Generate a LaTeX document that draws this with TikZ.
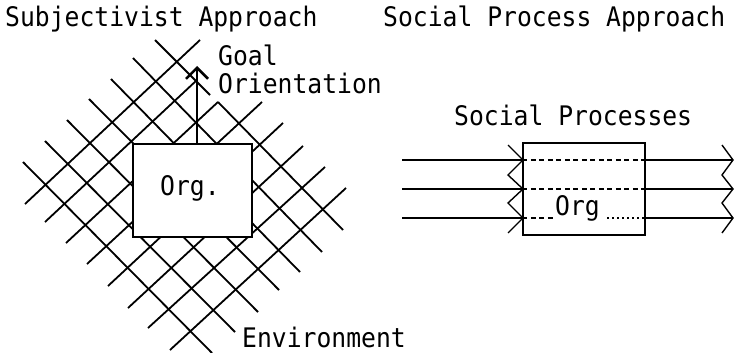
\documentclass[tikz,border=0pt]{standalone}
\usepackage{fontspec}
\newfontfamily\monofont{DejaVu Sans Mono}
\usetikzlibrary{arrows.meta}
\newcommand\tallt[1]{\scalebox{1}[1.09]{#1}}
\begin{document}
\begin{tikzpicture}[x=1pt,y=-1pt,
  lat/.style={line width=1.8pt},
  lbl/.style={font=\monofont\fontsize{24.7}{28}\selectfont, inner sep=0pt, anchor=base west},
  boxL/.style={draw, line width=2pt, fill=white, minimum width=119pt, minimum height=93pt, inner sep=0pt},
  boxR/.style={draw, line width=1.5pt, fill=white, minimum width=122pt, minimum height=92pt, inner sep=0pt},
  flow/.style={line width=2.2pt},
  inner/.style={line width=1.2pt, dash pattern=on 5pt off 3.5pt},
  dots/.style={line width=1.2pt, dash pattern=on 2pt off 3pt},
  zig/.style={line width=1.4pt, line join=miter}]
\useasboundingbox (0,0) rectangle (734,353);

% environment lattice
\draw[lat] (23,162) -- (212,353);
\draw[lat] (45,141) -- (235,332);
\draw[lat] (67,120) -- (258,312);
\draw[lat] (89,99) -- (279,290);
\draw[lat] (111,79) -- (300,272);
\draw[lat] (133,58) -- (322,252);
\draw[lat] (155,40) -- (210,95);
\draw[lat] (218,102) -- (343,230);
\draw[lat] (25,204) -- (200,40);
\draw[lat] (45,222) -- (197,80);
\draw[lat] (66,243) -- (218,102);
\draw[lat] (87,264) -- (262,102);
\draw[lat] (108,286) -- (283,123);
\draw[lat] (128,308) -- (303,146);
\draw[lat] (148,328) -- (325,167);
\draw[lat] (170,350) -- (346,188);

% organisation box, subjectivist
\node[boxL] (orgL) at (192.5,190.5) {};
\node[lbl] (orgLtxt) at (160,195) {\tallt{Org.}};
\coordinate (goaltip) at (197,66);
\draw[line width=2.5pt, -{Straight Barb[length=11pt,width=22pt]}] (orgL.north -| goaltip) -- (goaltip);

% titles and labels
\node[lbl] (t1) at (5,27) {\tallt{Subjectivist Approach}};
\node[lbl] (t2) at (383,27) {\tallt{Social Process Approach}};
\node[lbl] (goal) at (218,66) {\tallt{Goal}};
\node[lbl] (orient) at (218,93) {\tallt{Orientation}};
\node[lbl] (env) at (242,347) {\tallt{Environment}};
\node[lbl] (sp) at (454,125) {\tallt{Social Processes}};

% social process approach
\node[boxR] (orgR) at (584,189) {};
\coordinate (inA) at (402,160);
\coordinate (inB) at (402,189);
\coordinate (inC) at (402,218);
\coordinate (outA) at (733,160);
\coordinate (outB) at (733,189);
\coordinate (outC) at (733,218);
\foreach \c/\o in {inA/outA,inB/outB,inC/outC}{
  \draw[flow] (\c) -- (\c -| orgR.west);
  \draw[flow] (\c -| orgR.east) -- (\o);
}
\draw[inner] (inA -| orgR.west) -- (inA -| orgR.east);
\draw[inner] (inB -| orgR.west) -- (inB -| orgR.east);
\node[lbl] (orgRtxt) at (555,215) {\tallt{Org}};
\coordinate (gapA) at (553,218);
\coordinate (gapB) at (607,218);
\draw[inner] (inC -| orgR.west) -- (gapA);
\draw[dots] (gapB) -- (inC -| orgR.east);

% zigzags
\draw[zig] (508,145) -- (523,160) -- (508,175) -- (523,189) -- (508,203) -- (523,218) -- (508,233);
\draw[zig] (722,145) -- (733,160) -- (722,175) -- (733,189) -- (722,203) -- (733,218) -- (722,233);
\end{tikzpicture}
\end{document}
